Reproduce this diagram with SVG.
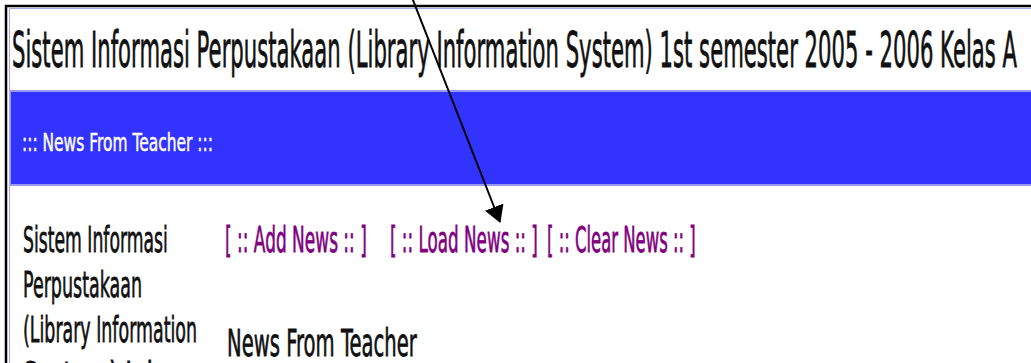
<svg xmlns="http://www.w3.org/2000/svg" width="1031" height="363" viewBox="0 0 1031 363">
  <style>
    .txt { font-family: "DejaVu Sans", "Liberation Sans", sans-serif; }
    .dark { fill: #111111; stroke: #111111; stroke-width: 0.6; vector-effect: non-scaling-stroke; }
    .link { fill: #800080; stroke: #800080; stroke-width: 0.6; vector-effect: non-scaling-stroke; }
    .bar-label { fill: #ffffff; stroke: #ffffff; stroke-width: 0.4; vector-effect: non-scaling-stroke; }
    .frame { stroke: #000000; stroke-width: 2.5; fill: none; }
    .inner { stroke: #a8a8f0; stroke-width: 1; fill: none; }
    .pointer { stroke: #000000; stroke-width: 2; fill: none; }
  </style>
  <defs>
    <marker id="arrowhead" markerUnits="userSpaceOnUse" markerWidth="17" markerHeight="20" refX="16" refY="10" orient="auto">
      <path d="M0,0 L17,10 L0,20 Z" fill="#000000"/>
    </marker>
  </defs>

  <!-- page background and frame -->
  <g id="page-frame">
    <rect x="0" y="0" width="1031" height="363" fill="#ffffff"/>
    <path class="frame" d="M6,363 V6 H1031"/>
    <path class="inner" d="M9.5,363 V8.5 H1031"/>
  </g>

  <!-- page title (condensed face: horizontal scale + fitted length) -->
  <g id="title">
    <text class="txt dark" transform="translate(12,67) scale(0.423,1)" font-size="49" textLength="2376" lengthAdjust="spacingAndGlyphs">Sistem Informasi Perpustakaan (Library Information System) 1st semester 2005 - 2006 Kelas A</text>
  </g>

  <!-- blue section bar -->
  <g id="news-bar">
    <rect x="10" y="90" width="1021" height="96" fill="#9a9af6"/>
    <rect x="11" y="92" width="1020" height="92" fill="#3333ff"/>
    <text class="txt bar-label" transform="translate(22,151) scale(0.618,1)" font-size="24.5" textLength="309" lengthAdjust="spacingAndGlyphs">::: News From Teacher :::</text>
  </g>

  <!-- left column description -->
  <g id="sidebar">
    <text class="txt dark" transform="translate(23,252) scale(0.478,1)" font-size="36" textLength="303" lengthAdjust="spacingAndGlyphs">Sistem Informasi</text>
    <text class="txt dark" transform="translate(23,297) scale(0.478,1)" font-size="36" textLength="249" lengthAdjust="spacingAndGlyphs">Perpustakaan</text>
    <text class="txt dark" transform="translate(23,342) scale(0.478,1)" font-size="36" textLength="364" lengthAdjust="spacingAndGlyphs">(Library Information</text>
    <text class="txt dark" transform="translate(23,387) scale(0.478,1)" font-size="36" textLength="272" lengthAdjust="spacingAndGlyphs">System) Ini</text>
  </g>

  <!-- news actions -->
  <g id="news-links">
    <text class="txt link" transform="translate(225,252) scale(0.465,1)" font-size="36" textLength="305" lengthAdjust="spacingAndGlyphs">[ :: Add News :: ]</text>
    <text class="txt link" transform="translate(390,252) scale(0.465,1)" font-size="36" textLength="318" lengthAdjust="spacingAndGlyphs">[ :: Load News :: ]</text>
    <text class="txt link" transform="translate(547,252) scale(0.465,1)" font-size="36" textLength="320" lengthAdjust="spacingAndGlyphs">[ :: Clear News :: ]</text>
  </g>

  <!-- content heading -->
  <g id="news-heading">
    <text class="txt dark" transform="translate(227,356) scale(0.516,1)" font-size="37" textLength="368" lengthAdjust="spacingAndGlyphs">News From Teacher</text>
  </g>

  <!-- pointer to the Load News action -->
  <g id="connectors">
    <path class="pointer" d="M411,-5 L500,222" marker-end="url(#arrowhead)"/>
  </g>
</svg>
